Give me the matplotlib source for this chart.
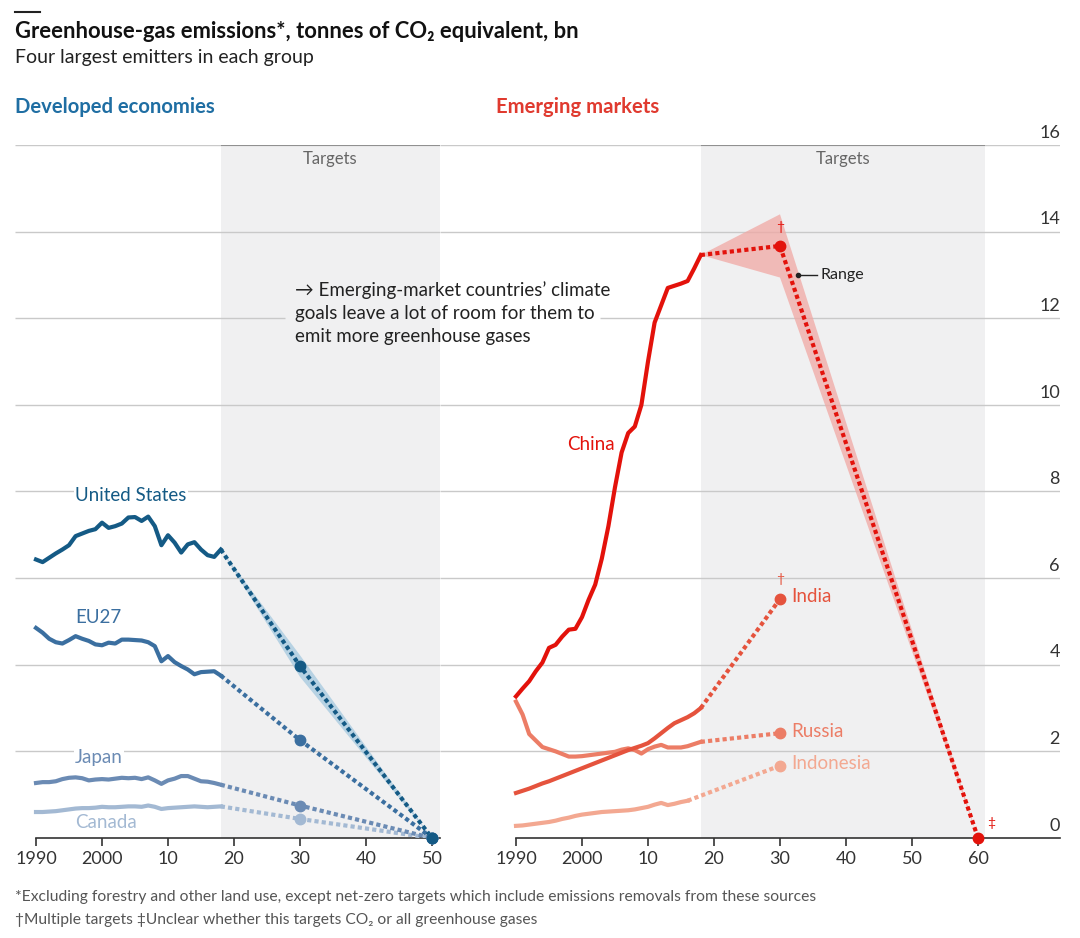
import numpy as np
import matplotlib
matplotlib.use("Agg")
import matplotlib.pyplot as plt
import matplotlib.transforms as mtrans

plt.rcParams['font.family'] = ['Lato', 'DejaVu Sans']

# ── Data (bn tonnes CO2e) ──
hist_years = list(range(1990, 2019))
us = [6.43, 6.37, 6.47, 6.57, 6.66, 6.76, 6.97, 7.03, 7.09, 7.13, 7.28, 7.16, 7.20, 7.26, 7.40,
      7.41, 7.32, 7.42, 7.20, 6.76, 6.99, 6.82, 6.59, 6.78, 6.83, 6.66, 6.53, 6.49, 6.66]
eu27 = [4.85, 4.74, 4.60, 4.52, 4.49, 4.57, 4.66, 4.60, 4.55, 4.47, 4.45, 4.51, 4.49, 4.58, 4.58,
        4.57, 4.56, 4.52, 4.43, 4.08, 4.20, 4.06, 3.97, 3.89, 3.78, 3.83, 3.84, 3.85, 3.75]
japan = [1.27, 1.29, 1.29, 1.31, 1.36, 1.39, 1.40, 1.38, 1.33, 1.35, 1.36, 1.35, 1.37, 1.39, 1.38,
         1.39, 1.36, 1.40, 1.33, 1.25, 1.33, 1.37, 1.43, 1.43, 1.37, 1.31, 1.30, 1.27, 1.23]
canada = [0.60, 0.60, 0.61, 0.62, 0.64, 0.66, 0.68, 0.69, 0.69, 0.70, 0.72, 0.71, 0.71, 0.72, 0.73,
          0.73, 0.72, 0.75, 0.72, 0.67, 0.69, 0.70, 0.71, 0.72, 0.73, 0.72, 0.71, 0.72, 0.73]
china = [3.27, 3.45, 3.62, 3.85, 4.05, 4.39, 4.46, 4.65, 4.81, 4.83, 5.10, 5.50, 5.85, 6.45, 7.20,
         8.10, 8.90, 9.35, 9.50, 10.0, 11.0, 11.9, 12.3, 12.7, 12.75, 12.8, 12.86, 13.15, 13.46]
india = [1.04, 1.09, 1.14, 1.20, 1.26, 1.31, 1.37, 1.43, 1.49, 1.55, 1.61, 1.67, 1.73, 1.79, 1.85,
         1.91, 1.97, 2.03, 2.08, 2.13, 2.19, 2.30, 2.42, 2.54, 2.65, 2.72, 2.79, 2.88, 3.00]
russia = [3.15, 2.85, 2.40, 2.25, 2.10, 2.05, 2.00, 1.94, 1.88, 1.88, 1.89, 1.91, 1.93, 1.95, 1.97,
          1.99, 2.04, 2.07, 2.03, 1.95, 2.05, 2.11, 2.15, 2.09, 2.09, 2.09, 2.12, 2.17, 2.22]
indo_years = list(range(1990, 2017))
indonesia = [0.28, 0.29, 0.31, 0.33, 0.35, 0.37, 0.40, 0.44, 0.47, 0.51, 0.54, 0.56, 0.58, 0.60,
             0.61, 0.62, 0.63, 0.64, 0.66, 0.69, 0.72, 0.77, 0.81, 0.76, 0.79, 0.83, 0.86]

# targets: (years, values)
us_target = ([2018, 2030, 2050], [6.66, 3.97, 0.0])
us_range = ([2018, 2030, 2050, 2030], [6.66, 4.22, 0.0, 3.72])
eu_target = ([2018, 2030, 2050], [3.75, 2.26, 0.0])
japan_target = ([2018, 2030, 2050], [1.23, 0.75, 0.0])
canada_target = ([2018, 2030, 2050], [0.73, 0.44, 0.0])
china_target = ([2018, 2030, 2060], [13.46, 13.67, 0.0])
china_range = ([2018, 2030, 2060, 2030], [13.46, 14.4, 0.0, 12.94])
india_target = ([2018, 2030], [3.00, 5.52])
russia_target = ([2018, 2030], [2.22, 2.42])
indo_target = ([2016, 2030], [0.86, 1.67])

left_ticks = [1990, 2000, 2010, 2020, 2030, 2040, 2050]
left_ticklabels = ['1990', '2000', '10', '20', '30', '40', '50']
right_ticks = [1990, 2000, 2010, 2020, 2030, 2040, 2050, 2060]
right_ticklabels = ['1990', '2000', '10', '20', '30', '40', '50', '60']
y_grid = [2, 4, 6, 8, 10, 12, 14, 16]

# ── Colours ──
C_US, C_EU, C_JP, C_CA = '#145a85', '#3b6fa0', '#6b8bb4', '#a3b9d3'
C_CN, C_IN, C_RU, C_ID = '#e3120b', '#e5533d', '#ec7d66', '#f3a891'
GRID = '#c9c9c9'
SHADE = '#f0f0f1'
DOTS = (0, (1.0, 0.75))

W, H = 1080, 938
fig = plt.figure(figsize=(W / 100, H / 100), dpi=100)

PX_PER_YEAR = 6.6
Y_TOP, Y_BOT = 145, 838


def make_ax(x0, x1, year_at_x0):
    ax = fig.add_axes([x0 / W, 1 - Y_BOT / H, (x1 - x0) / W, (Y_BOT - Y_TOP) / H])
    ax.set_xlim(year_at_x0, year_at_x0 + (x1 - x0) / PX_PER_YEAR)
    ax.set_ylim(0, 16)
    ax.patch.set_alpha(0)
    for s in ['top', 'left', 'right']:
        ax.spines[s].set_visible(False)
    ax.set_yticks([])
    ax.spines['bottom'].set_color('#333333')
    ax.spines['bottom'].set_linewidth(1.2)
    ax.spines['bottom'].set_bounds(1990, ax.get_xlim()[1])
    ax.tick_params(axis='x', length=6, width=1.2, color='#333333', pad=3,
                   labelsize=13, labelcolor='#333333')
    return ax


axL = make_ax(15, 440, 1990 - (36 - 15) / PX_PER_YEAR)
axR = make_ax(440, 1060, 1990 - (516 - 440) / PX_PER_YEAR)

axL.set_xticks(left_ticks, left_ticklabels)
axR.set_xticks(right_ticks, right_ticklabels)

# shading for target periods
for ax, end in [(axL, 2051.2), (axR, 2061)]:
    ax.axvspan(2018, end, ymin=0, ymax=1, color=SHADE, lw=0, zorder=0)
    ax.hlines(16, 2018, end, color='#8a8a8a', lw=1.3, zorder=1.5)
    ax.text((2018 + end) / 2, 15.68, 'Targets', ha='center', va='center',
            fontsize=12, color='#666666')

# gridlines (line at 12 broken round the annotation)
for v in y_grid:
    l0, l1 = axL.get_xlim()
    r0, r1 = axR.get_xlim()
    if v == 12:
        axL.hlines(v, l0, 2027.7, color=GRID, lw=1, zorder=1)
        axR.hlines(v, 2002.7, r1, color=GRID, lw=1, zorder=1)
    else:
        axL.hlines(v, l0, l1, color=GRID, lw=1, zorder=1)
        axR.hlines(v, r0, r1, color=GRID, lw=1, zorder=1)

# y labels on the right
trans = mtrans.blended_transform_factory(axR.transAxes, axR.transData)
for v in [0] + y_grid:
    axR.text(1.0, v + 0.1, str(v), transform=trans, ha='right', va='bottom',
             fontsize=13, color='#333333')

# ── Developed economies ──
axL.fill(*us_range, color='#a9cbe0', alpha=0.8, lw=0, zorder=2)
for vals, tgt, col in [(canada, canada_target, C_CA), (japan, japan_target, C_JP),
                       (eu27, eu_target, C_EU), (us, us_target, C_US)]:
    axL.plot(hist_years, vals, color=col, lw=3, solid_joinstyle='round', zorder=3)
    axL.plot(tgt[0], tgt[1], color=col, lw=3, linestyle=DOTS, zorder=3)
    axL.plot(tgt[0][1:], tgt[1][1:], 'o', color=col, ms=7.5, zorder=4, clip_on=False)

lab_kw = dict(fontsize=13.5, va='center', ha='left',
              bbox=dict(facecolor='white', edgecolor='none', pad=1))
axL.text(1995.9, 7.9, 'United States', color=C_US, **lab_kw)
axL.text(1995.9, 5.08, 'EU27', color=C_EU, **lab_kw)
axL.text(1995.9, 1.87, 'Japan', color=C_JP, **lab_kw)
axL.text(1995.9, 0.35, 'Canada', color=C_CA, **lab_kw)

axL.text(2029.2, 12.65,
         '→ Emerging-market countries’ climate\ngoals leave a lot of room for them to\nemit more greenhouse gases',
         ha='left', va='top', fontsize=13.5, color='#222222', linespacing=1.42,
         transform=axL.transData + mtrans.ScaledTranslation(0, 0.09, fig.dpi_scale_trans))

# ── Emerging markets ──
axR.fill(*china_range, color='#f0a8a4', alpha=0.75, lw=0, zorder=2)
for yrs, vals, tgt, col in [(indo_years, indonesia, indo_target, C_ID),
                            (hist_years, russia, russia_target, C_RU),
                            (hist_years, india, india_target, C_IN),
                            (hist_years, china, china_target, C_CN)]:
    axR.plot(yrs, vals, color=col, lw=3, solid_joinstyle='round', zorder=3)
    axR.plot(tgt[0], tgt[1], color=col, lw=3, linestyle=DOTS, zorder=3)
    axR.plot(tgt[0][1:], tgt[1][1:], 'o', color=col, ms=7.5, zorder=4, clip_on=False)

rk = dict(fontsize=13.5, va='center')
axR.text(2005.0, 9.08, 'China', color=C_CN, ha='right', **rk)
axR.text(2031.7, 5.58, 'India', color=C_IN, ha='left', **rk)
axR.text(2031.7, 2.47, 'Russia', color=C_RU, ha='left', **rk)
axR.text(2031.7, 1.71, 'Indonesia', color=C_ID, ha='left', **rk)

axR.text(2030, 14.1, '†', color=C_CN, ha='center', va='center', fontsize=10)
axR.text(2030, 5.98, '†', color=C_IN, ha='center', va='center', fontsize=10)
axR.text(2061.4, 0.35, '‡', color=C_CN, ha='left', va='center', fontsize=10)

axR.plot([2032.8], [13.0], 'o', color='#222222', ms=3, zorder=5)
axR.plot([2032.8, 2035.6], [13.0, 13.0], color='#222222', lw=1, zorder=5)
axR.text(2036.1, 13.0, 'Range', ha='left', va='center', fontsize=11.5, color='#222222')

# ── Header and footer ──
def ftext(x, y, s, **kw):
    fig.text(x / W, 1 - y / H, s, **kw)

fig.add_artist(plt.Line2D([15 / W, 40 / W], [1 - 12 / H, 1 - 12 / H], color='#222222', lw=1.5))
ftext(15, 31, 'Greenhouse-gas emissions*, tonnes of CO₂ equivalent, bn', fontsize=15.8,
      fontweight='bold', va='center', color='#111111')
ftext(15, 58, 'Four largest emitters in each group', fontsize=14, va='center', color='#222222')
ftext(15, 107, 'Developed economies', fontsize=14.6, fontweight='bold', va='center', color='#1f6ea3')
ftext(496, 107, 'Emerging markets', fontsize=14.6, fontweight='bold', va='center', color='#e03a2f')
ftext(15, 897, '*Excluding forestry and other land use, except net-zero targets which include '
      'emissions removals from these sources', fontsize=11.25, va='center', color='#555555')
ftext(15, 920, '†Multiple targets ‡Unclear whether this targets CO₂ or all greenhouse gases',
      fontsize=11.25, va='center', color='#555555')

fig.savefig('out.png', dpi=100, facecolor='white')
